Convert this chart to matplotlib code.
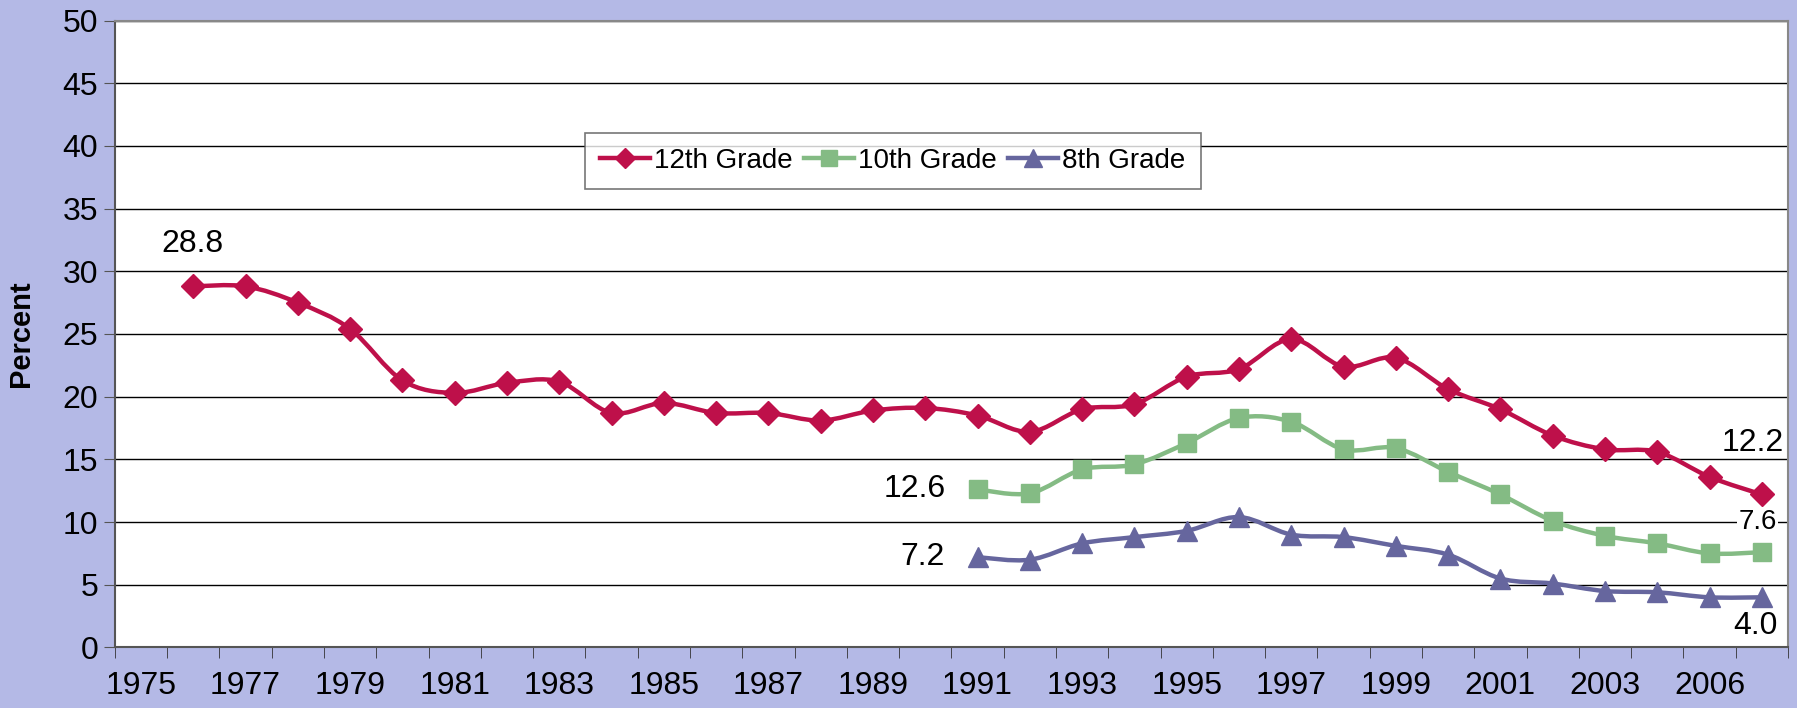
import matplotlib.pyplot as plt
import numpy as np
from matplotlib.path import Path
from matplotlib.patches import PathPatch
from matplotlib.lines import Line2D

plt.rcParams['font.family'] = ['Liberation Sans', 'DejaVu Sans']

# categories on the axis (1975 is an empty slot)
years = list(range(1975, 2007))
tick_labels = ['1975', '1977', '1979', '1981', '1983', '1985', '1987', '1989',
               '1991', '1993', '1995', '1997', '1999', '2001', '2003', '2006']

years_12 = list(range(1976, 2007))
grade12 = [28.8, 28.8, 27.5, 25.4, 21.3, 20.3, 21.1, 21.2, 18.7, 19.5, 18.7,
           18.7, 18.1, 18.9, 19.1, 18.5, 17.2, 19.0, 19.4, 21.6, 22.2, 24.6,
           22.4, 23.1, 20.6, 19.0, 16.9, 15.8, 15.6, 13.6, 12.2]
years_10 = list(range(1991, 2007))
grade10 = [12.6, 12.3, 14.2, 14.6, 16.3, 18.3, 18.0, 15.8, 15.9, 14.0, 12.2,
           10.1, 8.9, 8.3, 7.5, 7.6]
years_8 = list(range(1991, 2007))
grade8 = [7.2, 7.0, 8.3, 8.8, 9.3, 10.4, 9.0, 8.8, 8.1, 7.4, 5.5, 5.1, 4.5,
          4.4, 4.0, 4.0]

bg = '#b4b9e6'
c12 = '#be104a'
c10 = '#84bb84'
c8 = '#66669e'


def xpos(yrs):
    # category centre
    return np.array([years.index(y) + 0.5 for y in yrs])


def smooth_path(x, y):
    # Excel-like smoothed line: Catmull-Rom converted to cubic Bezier
    pts = np.column_stack([x, y])
    verts = [pts[0]]
    codes = [Path.MOVETO]
    n = len(pts)
    for i in range(n - 1):
        p0 = pts[i - 1] if i > 0 else pts[i]
        p1 = pts[i]
        p2 = pts[i + 1]
        p3 = pts[i + 2] if i + 2 < n else pts[i + 1]
        c1 = p1 + (p2 - p0) / 6.0
        c2 = p2 - (p3 - p1) / 6.0
        verts += [c1, c2, p2]
        codes += [Path.CURVE4] * 3
    return Path(verts, codes)


fig = plt.figure(figsize=(17.97, 7.08), dpi=100, facecolor=bg)
ax = fig.add_axes([0.0639, 0.0855, 0.9311, 0.8855])
ax.set_facecolor('white')

series = [
    (years_12, grade12, c12, 'D', 12, '12th Grade'),
    (years_10, grade10, c10, 's', 13, '10th Grade'),
    (years_8, grade8, c8, '^', 15, '8th Grade'),
]
handles = []
for yrs, vals, col, mk, ms, lab in series:
    x = xpos(yrs)
    ax.add_patch(PathPatch(smooth_path(x, vals), fill=False, edgecolor=col,
                           lw=3.2, zorder=3, capstyle='round'))
    ax.plot(x, vals, ls='none', marker=mk, ms=ms, color=col, zorder=4)
    handles.append(Line2D([], [], color=col, lw=3.2, marker=mk, ms=ms - 2, label=lab))

ax.set_xlim(0, len(years))
ax.set_ylim(0, 50)
ax.set_yticks(np.arange(0, 51, 5))
ax.yaxis.grid(True, color='black', lw=1)
ax.set_axisbelow(True)
ax.tick_params(axis='y', labelsize=23, length=8, color='#555555', pad=4)

ax.set_xticks(np.arange(0, len(years) + 1), minor=True)
ax.set_xticks(np.arange(0, 31, 2) + 0.5)
ax.set_xticklabels(tick_labels)
ax.tick_params(axis='x', which='major', length=0, labelsize=23, pad=17)
ax.tick_params(axis='x', which='minor', length=8, color='#333333')

for s in ['left', 'bottom']:
    ax.spines[s].set_color('#555555')
    ax.spines[s].set_linewidth(1.5)
for s in ['top', 'right']:
    ax.spines[s].set_color('#888888')
    ax.spines[s].set_linewidth(1.5)

ax.set_ylabel('Percent', fontsize=21, fontweight='bold', labelpad=20)

# value labels
ax.text(1.49, 32.2, '28.8', fontsize=23, ha='center', va='center')
ax.text(15.9, 12.6, '12.6', fontsize=23, ha='right', va='center')
ax.text(15.87, 7.2, '7.2', fontsize=23, ha='right', va='center')
ax.text(31.93, 16.3, '12.2', fontsize=23, ha='right', va='center')
ax.text(31.78, 10.0, '7.6', fontsize=20, ha='right', va='center',
        bbox=dict(facecolor='white', edgecolor='none', pad=1))
ax.text(31.8, 1.7, '4.0', fontsize=23, ha='right', va='center')

leg = ax.legend(handles=handles, loc='center', bbox_to_anchor=(0.465, 0.776),
                ncol=3, fontsize=20, frameon=True, fancybox=False,
                handlelength=1.8, handletextpad=0.15, columnspacing=0.4,
                borderpad=0.55, borderaxespad=0)
leg.get_frame().set_edgecolor('#555555')
leg.get_frame().set_linewidth(1.2)

fig.savefig('out.png', dpi=100, facecolor=bg)
